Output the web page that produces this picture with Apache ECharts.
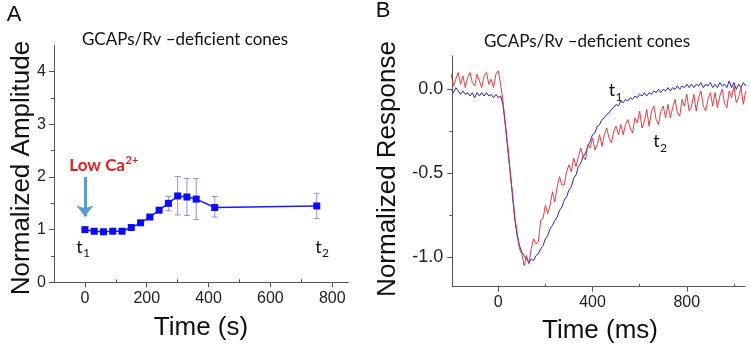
<!DOCTYPE html>
<html>
<head>
<meta charset="utf-8">
<script src="https://cdn.jsdelivr.net/npm/echarts@6/dist/echarts.min.js"></script>
<style>
  html, body { margin: 0; padding: 0; background: #fff; }
  #chart { width: 750px; height: 351px; }
</style>
</head>
<body>
<div id="chart"></div>
<script>
// Panel A: normalized amplitude over time (s)
const ampTime = [0, 30, 60, 90, 120, 150, 180, 210, 240, 270, 300, 330, 360, 420, 750];
const ampValue = [1.00, 0.97, 0.96, 0.97, 0.97, 1.04, 1.13, 1.24, 1.37, 1.50, 1.64, 1.62, 1.58, 1.42, 1.45];
// error bars: [time, low, high]
const ampErrors = [
  [60, 0.91, 1.00],
  [270, 1.36, 1.63],
  [300, 1.28, 2.01],
  [330, 1.27, 1.97],
  [360, 1.19, 1.97],
  [420, 1.24, 1.63],
  [750, 1.21, 1.69]
];

// Panel B: normalized responses, sampled every 10 ms starting at -200 ms
const respStart = -200;
const respStep = 10;
const respT1 = [
  0.00, -0.02, 0.01, -0.01, -0.03, -0.01, -0.03, -0.02, -0.04, -0.02,
  -0.05, -0.02, -0.04, -0.02, -0.04, -0.02, -0.04, -0.03, -0.05, -0.03,
  -0.05, -0.04, -0.09, -0.21, -0.35, -0.48, -0.63, -0.77, -0.87, -0.93,
  -0.97, -0.99, -1.01, -1.03, -1.01, -1.02, -0.99, -0.98, -0.95, -0.93,
  -0.89, -0.87, -0.83, -0.81, -0.78, -0.76, -0.72, -0.70, -0.66, -0.64,
  -0.60, -0.58, -0.53, -0.51, -0.46, -0.44, -0.40, -0.38, -0.34, -0.31,
  -0.27, -0.26, -0.22, -0.21, -0.18, -0.17, -0.15, -0.14, -0.12, -0.11,
  -0.09, -0.10, -0.07, -0.08, -0.06, -0.07, -0.05, -0.06, -0.04, -0.05,
  -0.03, -0.04, -0.02, -0.04, -0.02, -0.03, -0.01, -0.02, 0.00, -0.02,
  0.00, -0.01, 0.01, -0.01, 0.01, 0.00, 0.02, 0.00, 0.02, 0.01,
  0.03, 0.01, 0.03, 0.01, 0.03, 0.02, 0.04, 0.01, 0.03, 0.02,
  0.04, 0.01, 0.03, 0.01, 0.04, 0.02, 0.03, 0.01, 0.05, 0.01,
  0.04, 0.00, 0.03, 0.01, 0.04, 0.02
];
const respT2 = [
  0.09, 0.02, 0.06, 0.10, 0.03, 0.08, 0.01, 0.07, 0.10, 0.04,
  0.02, 0.09, 0.05, 0.01, 0.08, 0.10, 0.03, 0.06, 0.01, 0.09,
  0.11, 0.03, -0.07, -0.21, -0.33, -0.49, -0.61, -0.76, -0.85, -0.95,
  -0.98, -1.05, -0.99, -1.04, -0.95, -0.89, -0.92, -0.91, -0.78, -0.77,
  -0.69, -0.74, -0.69, -0.61, -0.67, -0.58, -0.52, -0.57, -0.57, -0.49,
  -0.45, -0.49, -0.41, -0.46, -0.40, -0.35, -0.40, -0.42, -0.33, -0.35,
  -0.29, -0.36, -0.33, -0.27, -0.34, -0.27, -0.23, -0.29, -0.32, -0.25,
  -0.22, -0.27, -0.21, -0.27, -0.21, -0.18, -0.23, -0.26, -0.17, -0.20,
  -0.13, -0.23, -0.19, -0.12, -0.22, -0.13, -0.10, -0.18, -0.21, -0.13,
  -0.10, -0.17, -0.09, -0.17, -0.11, -0.06, -0.14, -0.16, -0.06, -0.10,
  -0.03, -0.13, -0.10, -0.03, -0.13, -0.05, -0.01, -0.10, -0.13, -0.06,
  -0.02, -0.10, -0.02, -0.11, -0.04, 0.00, -0.08, -0.11, -0.01, -0.05,
  0.02, -0.08, -0.05, 0.01, -0.09, -0.01
];

// tick values
const ampXTicks = [0, 200, 400, 600, 800];
const ampXMinor = [100, 300, 500, 700];
const ampYTicks = [0, 1, 2, 3, 4];
const ampYMinor = [0.5, 1.5, 2.5, 3.5];
const respXTicks = [0, 400, 800];
const respXMinor = [200, 600, 1000];
const respYTicks = [-1.0, -0.5, 0.0];
const respYMinor = [-0.75, -0.25];

const SANS = '"Liberation Sans", Arial, sans-serif';
const CAL = 'Lato, "Open Sans", sans-serif';
const AXIS_COLOR = '#555';

const toPairs = (vals) => vals.map((v, i) => [respStart + i * respStep, v]);

function mainAxis(grid, pos, min, max, ticks, fontSize, extra) {
  return Object.assign({
    type: 'value', gridIndex: grid, position: pos, min: min, max: max,
    axisLine: { show: true, onZero: false, lineStyle: { color: AXIS_COLOR, width: 1 } },
    axisTick: { show: true, inside: false, length: 5, customValues: ticks, lineStyle: { color: AXIS_COLOR } },
    axisLabel: { customValues: ticks, fontFamily: SANS, fontSize: fontSize, color: '#222', margin: 8 },
    splitLine: { show: false }
  }, extra || {});
}

// second axis on the same side, only for the short minor ticks
function minorAxis(grid, pos, min, max, ticks, inside) {
  return {
    type: 'value', gridIndex: grid, position: pos, offset: 0, min: min, max: max,
    axisLine: { show: false, onZero: false },
    axisTick: { show: true, inside: inside, length: 3, customValues: ticks, lineStyle: { color: AXIS_COLOR } },
    axisLabel: { show: false },
    splitLine: { show: false }
  };
}

function text(x, y, str, font, extra) {
  return Object.assign({
    type: 'text', x: x, y: y,
    style: { text: str, font: font, fill: '#111', align: 'center', verticalAlign: 'middle' }
  }, extra || {});
}

const chart = echarts.init(document.getElementById('chart'));

chart.setOption({
  animation: false,
  backgroundColor: '#fff',
  grid: [
    { left: 54, top: 45.4, width: 294.3, height: 236.9 },
    { left: 452.3, top: 55.7, width: 292.7, height: 231 }
  ],
  xAxis: [
    mainAxis(0, 'bottom', -100, 852, ampXTicks, 16),
    minorAxis(0, 'bottom', -100, 852, ampXMinor, true),
    mainAxis(1, 'bottom', -195, 1047, respXTicks, 16),
    minorAxis(1, 'bottom', -195, 1047, respXMinor, true)
  ],
  yAxis: [
    mainAxis(0, 'left', 0, 4.5, ampYTicks, 16),
    minorAxis(0, 'left', 0, 4.5, ampYMinor, false),
    mainAxis(1, 'left', -1.175, 0.2, respYTicks, 18, {
      axisLabel: {
        customValues: respYTicks, fontFamily: SANS, fontSize: 18, color: '#222', margin: 9,
        formatter: (v) => v.toFixed(1)
      }
    }),
    minorAxis(1, 'left', -1.175, 0.2, respYMinor, false)
  ],
  series: [
    {
      type: 'custom',
      xAxisIndex: 0, yAxisIndex: 0,
      data: ampErrors,
      encode: { x: 0, y: [1, 2] },
      z: 2,
      renderItem: (params, api) => {
        const x = api.value(0);
        const lo = api.coord([x, api.value(1)]);
        const hi = api.coord([x, api.value(2)]);
        const cap = 3;
        const style = { stroke: 'rgba(110,110,225,0.75)', lineWidth: 1 };
        return {
          type: 'group',
          children: [
            { type: 'line', shape: { x1: lo[0], y1: lo[1], x2: hi[0], y2: hi[1] }, style: style },
            { type: 'line', shape: { x1: lo[0] - cap, y1: lo[1], x2: lo[0] + cap, y2: lo[1] }, style: style },
            { type: 'line', shape: { x1: hi[0] - cap, y1: hi[1], x2: hi[0] + cap, y2: hi[1] }, style: style }
          ]
        };
      }
    },
    {
      type: 'line',
      xAxisIndex: 0, yAxisIndex: 0,
      data: ampTime.map((t, i) => [t, ampValue[i]]),
      symbol: 'rect', symbolSize: 7,
      itemStyle: { color: '#0a0aff' },
      lineStyle: { color: '#1a1aff', width: 1.5 },
      z: 3,
      markLine: {
        silent: true,
        symbol: ['none', 'arrow'],
        symbolSize: [13, 11],
        label: { show: false },
        lineStyle: { color: '#5b9bd5', width: 3, type: 'solid' },
        data: [[{ coord: [0, 2.0] }, { coord: [0, 1.25] }]]
      }
    },
    {
      name: 't1', type: 'line',
      xAxisIndex: 2, yAxisIndex: 2,
      data: toPairs(respT1),
      showSymbol: false,
      lineStyle: { color: '#2424d6', width: 1 },
      z: 2
    },
    {
      name: 't2', type: 'line',
      xAxisIndex: 2, yAxisIndex: 2,
      data: toPairs(respT2),
      showSymbol: false,
      lineStyle: { color: '#e8242c', width: 0.9 },
      z: 3
    }
  ],
  graphic: [
    text(14, 15, 'A', '22px ' + SANS),
    text(383, 11, 'B', '22px ' + SANS),
    text(185, 40, 'GCAPs/Rv \u2013deficient cones', '17px ' + CAL),
    text(587, 42, 'GCAPs/Rv \u2013deficient cones', '17px ' + CAL),
    text(22, 168, 'Normalized Amplitude', '26px ' + SANS, { rotation: Math.PI / 2 }),
    text(388, 169, 'Normalized Response', '26px ' + SANS, { rotation: Math.PI / 2 }),
    text(201, 328, 'Time (s)', '26px ' + SANS),
    text(600, 331, 'Time (ms)', '26px ' + SANS),
    // Low Ca2+ annotation
    {
      type: 'text', x: 125, y: 166,
      style: { text: 'Low Ca', font: 'bold 17px ' + CAL, fill: '#e31e24', align: 'right', verticalAlign: 'middle' }
    },
    {
      type: 'text', x: 125.5, y: 160,
      style: { text: '2+', font: 'bold 11px ' + CAL, fill: '#e31e24', align: 'left', verticalAlign: 'middle' }
    },
    // t labels, panel A
    text(79.5, 247, 't', '18px ' + CAL),
    text(86.5, 253, '1', '12px ' + CAL),
    text(318.5, 247, 't', '18px ' + CAL),
    text(325.5, 253, '2', '12px ' + CAL),
    // t labels, panel B
    text(612, 90, 't', '18px ' + CAL),
    text(619, 97, '1', '12px ' + CAL),
    text(656.5, 141, 't', '18px ' + CAL),
    text(663.5, 148, '2', '12px ' + CAL)
  ]
});
</script>
</body>
</html>
